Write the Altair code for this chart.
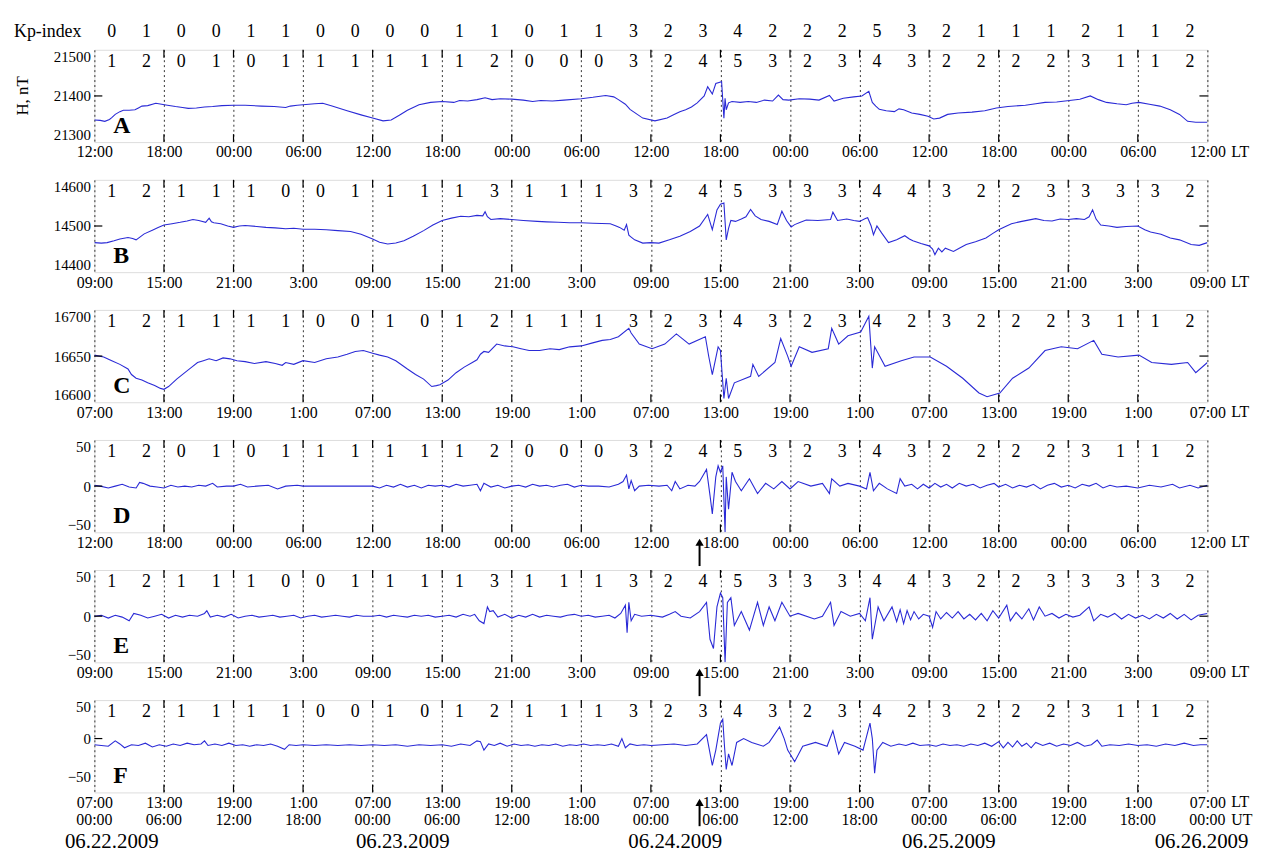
import altair as alt
import pandas as pd

# ---------------- data (time axis: hours UT from 06.22.2009 00:00) ----------------
TICK_HOURS = list(range(0, 97, 6))
LT_12 = ["12:00", "18:00", "00:00", "06:00"] * 4 + ["12:00"]
LT_09 = ["09:00", "15:00", "21:00", "3:00"] * 4 + ["09:00"]
LT_07 = ["07:00", "13:00", "19:00", "1:00"] * 4 + ["07:00"]
UT_LABELS = ["00:00", "06:00", "12:00", "18:00"] * 4 + ["00:00"]
DATES = ["06.22.2009", "06.23.2009", "06.24.2009", "06.25.2009", "06.26.2009"]

KP_GLOBAL = [0, 1, 0, 0, 1, 1, 0, 0, 0, 0, 1, 1, 0, 1, 1, 3,
             2, 3, 4, 2, 2, 2, 5, 3, 2, 1, 1, 1, 2, 1, 1, 2]
K_A = [1, 2, 0, 1, 0, 1, 1, 1, 1, 1, 1, 2, 0, 0, 0, 3,
       2, 4, 5, 3, 2, 3, 4, 3, 2, 2, 2, 2, 3, 1, 1, 2]
K_B = [1, 2, 1, 1, 1, 0, 0, 1, 1, 1, 1, 3, 1, 1, 1, 3,
       2, 4, 5, 3, 3, 3, 4, 4, 3, 2, 2, 3, 3, 3, 3, 2]
K_C = [1, 2, 1, 1, 1, 1, 0, 0, 1, 0, 1, 2, 1, 1, 1, 3,
       2, 3, 4, 3, 2, 3, 4, 2, 3, 2, 2, 2, 3, 1, 1, 2]

A_t = [0, 0.5, 0.9, 1.3, 1.5, 1.8, 2.2, 2.5, 3.0, 3.5, 3.8, 4.1, 4.6, 5.3, 5.8, 6.3, 7.0, 7.6, 8.1, 8.8,
       9.5, 10.2, 11.0, 12.0, 13.0, 14.4, 15.5, 16.5, 16.9, 17.5, 18.0, 19.0, 19.7, 20.5, 21.8, 23.0, 24.0,
       24.9, 25.6, 26.3, 27.0, 28.0, 29.0, 30.0, 31.0, 31.5, 32.2, 33.0, 33.7, 34.3, 35.0, 36.0, 37.0, 37.8,
       38.5, 39.5, 40.5, 42.0, 43.0, 44.1, 44.8, 45.2, 45.8, 46.2, 47.3, 48.35, 49.4, 50.0, 50.5, 51.0, 51.5,
       52.0, 52.6, 52.9, 53.1, 53.3, 53.6, 54.1, 54.3, 54.4, 54.5, 54.7, 55.0, 55.7, 56.4, 57.1, 57.8, 58.5,
       59.0, 59.4, 59.9, 60.8, 61.7, 62.5, 63.4, 63.8, 64.6, 65.5, 66.2, 66.8, 67.1, 67.4, 67.7, 68.3, 69.0,
       69.4, 69.8, 70.5, 71.2, 71.9, 72.4, 72.9, 73.6, 74.5, 75.7, 76.8, 77.8, 78.8, 80.3, 81.2, 82.0, 83.0,
       84.1, 85.0, 85.9, 86.6, 87.3, 88.2, 89.0, 89.5, 90.1, 91.0, 91.9, 92.8, 93.6, 94.3, 95.0, 96.0]
A_v = [21348, 21347, 21345, 21349, 21353, 21360, 21366, 21369, 21369, 21370, 21374, 21378, 21379, 21384,
       21382, 21380, 21377, 21375, 21373, 21374, 21376, 21377, 21379, 21380, 21380, 21378, 21377, 21375,
       21378, 21380, 21381, 21383, 21384, 21378, 21368, 21359, 21352, 21346, 21348, 21358, 21369, 21381,
       21386, 21388, 21386, 21390, 21389, 21392, 21396, 21392, 21394, 21393, 21391, 21388, 21390, 21389,
       21391, 21394, 21397, 21401, 21398, 21392, 21382, 21371, 21352, 21346, 21352, 21360, 21366, 21370,
       21376, 21385, 21400, 21420, 21412, 21404, 21427, 21431, 21352, 21395, 21370, 21385, 21388, 21386,
       21388, 21386, 21391, 21389, 21402, 21392, 21391, 21394, 21393, 21391, 21401, 21389, 21395, 21398,
       21400, 21410, 21386, 21378, 21371, 21368, 21366, 21372, 21370, 21363, 21360, 21356, 21350, 21352,
       21360, 21363, 21365, 21368, 21374, 21377, 21380, 21383, 21386, 21387, 21390, 21393, 21400, 21392,
       21386, 21383, 21381, 21384, 21386, 21382, 21378, 21370, 21360, 21345, 21343, 21343]

B_t = [0, 0.6, 1.1, 1.7, 2.2, 2.9, 3.3, 3.6, 4.3, 5.0, 5.5, 6, 6.7, 7.4, 8.0, 8.5, 9.0, 9.6, 9.9, 10.1,
       10.3, 10.9, 11.5, 12, 12.5, 13, 14.0, 14.8, 15.6, 16.5, 17.2, 18, 19.0, 20, 21.0, 22.1, 23.0, 24,
       24.6, 25.3, 26.0, 26.7, 27.5, 28.4, 29.2, 30, 30.8, 31.6, 32.3, 33, 33.5, 33.7, 33.9, 34.2, 35.0, 36,
       37.0, 38.2, 39.0, 40, 41.0, 42, 43.0, 44.5, 45.0, 45.3, 45.7, 45.9, 46.1, 46.3, 46.6, 47.3, 48.0,
       48.7, 49.6, 50.5, 51.4, 52.2, 52.9, 53.3, 53.7, 54.0, 54.3, 54.5, 54.7, 54.9, 55.3, 55.8, 56.2, 56.6,
       57.0, 57.5, 58.2, 58.9, 59.3, 59.7, 60.1, 60.4, 60.9, 61.4, 62.4, 63.5, 63.7, 64.1, 64.9, 65.5, 66.0,
       66.5, 66.7, 67.0, 67.2, 67.5, 67.9, 68.5, 69.2, 69.9, 70.3, 70.6, 71.3, 72, 72.3, 72.5, 72.8, 73.1,
       73.4, 74.1, 74.6, 75.2, 76.0, 76.9, 77.5, 78, 78.5, 79.1, 80.0, 81.2, 81.9, 82.6, 83.3, 84, 84.7,
       85.4, 85.8, 86.1, 86.4, 86.8, 87.5, 88.2, 89.0, 90, 90.6, 91.1, 92.0, 92.8, 93.6, 94.6, 95.3, 96]
B_v = [14464, 14463, 14464, 14468, 14472, 14475, 14473, 14470, 14483, 14491, 14497, 14502, 14505, 14508,
       14511, 14514, 14512, 14508, 14517, 14509, 14507, 14505, 14500, 14497, 14500, 14501, 14499, 14497,
       14496, 14494, 14495, 14493, 14493, 14492, 14490, 14488, 14482, 14472, 14465, 14461, 14463, 14468,
       14478, 14490, 14502, 14512, 14517, 14521, 14520, 14523, 14522, 14531, 14520, 14514, 14516, 14514,
       14512, 14510, 14509, 14508, 14507, 14507, 14506, 14505, 14500, 14497, 14491, 14503, 14480, 14476,
       14470, 14463, 14464, 14463, 14470, 14478, 14488, 14500, 14525, 14492, 14535, 14547, 14550, 14470,
       14495, 14512, 14510, 14515, 14520, 14536, 14522, 14514, 14510, 14503, 14532, 14512, 14498, 14503,
       14508, 14513, 14512, 14514, 14530, 14512, 14515, 14512, 14510, 14516, 14518, 14500, 14481, 14500,
       14485, 14464, 14470, 14479, 14472, 14468, 14462, 14457, 14450, 14438, 14452, 14444, 14452, 14445,
       14452, 14460, 14466, 14474, 14484, 14492, 14498, 14505, 14510, 14516, 14512, 14511, 14515, 14514,
       14516, 14514, 14520, 14535, 14515, 14502, 14500, 14497, 14499, 14500, 14492, 14487, 14482, 14474,
       14470, 14460, 14458, 14464]

C_t = [0, 0.8, 1.5, 2.2, 2.9, 3.2, 3.6, 4.1, 4.6, 5.2, 5.7, 6.0, 6.4, 7.1, 7.8, 8.4, 8.9, 9.4, 9.9, 10.5,
       11.1, 11.7, 12.3, 13, 13.8, 14.8, 15.6, 16.2, 16.5, 17.2, 18, 19.0, 20, 21.0, 21.8, 22.5, 23.2, 24.0,
       24.6, 25.3, 26.0, 27, 27.7, 28.4, 29.1, 29.5, 29.8, 30.5, 31.2, 31.9, 32.6, 33.0, 33.3, 33.6, 34.0,
       34.7, 35.4, 36.1, 36.8, 37.5, 38.4, 39.3, 40.1, 41, 42, 42.9, 43.8, 44.5, 45.2, 46.1,
       46.3, 47, 48.1, 49.2, 50.2, 51.3, 52.7, 53.0, 53.3, 53.8, 54.0, 54.3, 54.5, 54.7, 55.2, 56.6, 56.8,
       57.3, 58.7, 59.2, 59.8, 60.1, 60.8, 61.9, 63.3, 63.6, 64.2, 65.0, 66.1, 66.8, 67.1, 67.3, 68.2, 69.6,
       70.7, 72.1, 73.5, 74.9, 76.3, 77, 78.1, 79.2, 80.6, 82, 83.4, 84.8, 86.2, 86.9, 88.3, 90.1, 91.2,
       92.9, 94.3, 95, 96]
C_v = [16651, 16649, 16645, 16641, 16636, 16630, 16626, 16624, 16621, 16618, 16615, 16614, 16617, 16625,
       16632, 16638, 16643, 16645, 16647, 16645, 16648, 16647, 16645, 16644, 16642, 16644, 16642, 16640,
       16643, 16641, 16645, 16643, 16647, 16649, 16652, 16655, 16656, 16653, 16651, 16649, 16645, 16636,
       16630, 16625, 16617, 16618, 16619, 16624, 16632, 16638, 16643, 16646, 16652, 16655, 16654, 16663,
       16661, 16660, 16658, 16656, 16656, 16658, 16657, 16660, 16661, 16664, 16667, 16668, 16671, 16680,
       16675, 16663, 16658, 16663, 16674, 16663, 16671, 16649, 16630, 16660, 16656, 16604, 16626, 16604,
       16621, 16628, 16641, 16628, 16643, 16669, 16650, 16639, 16660, 16654, 16658, 16680, 16663, 16672,
       16676, 16693, 16637, 16660, 16639, 16645, 16649, 16649, 16639, 16626, 16610, 16606, 16610, 16626,
       16637, 16656, 16660, 16658, 16667, 16652, 16649, 16651, 16643, 16641, 16643, 16632, 16643]

D_t = [0, 0.5, 1.2, 1.8, 2.4, 3.0, 3.6, 3.9, 4.2, 4.8, 5.4, 6.0, 6.6, 7.2, 7.8, 8.4, 9.0, 9.6, 10.2, 10.6,
       11.4, 12.0, 12.6, 13.2, 14.0, 15.0, 15.8, 16.5, 17.5, 18.0, 19.5, 21.0, 22.5, 24.0, 24.6, 25.2, 25.8,
       26.4, 27.0, 27.6, 28.2, 28.8, 29.4, 30.0, 30.6, 31.2, 31.8, 32.4, 33.0, 33.3, 33.6, 34.2, 34.8, 35.4,
       36.0, 36.6, 37.2, 37.8, 38.4, 39.0, 39.6, 40.2, 40.8, 41.4, 42.0, 42.6, 43.5, 44.4, 45.2, 45.6, 45.9,
       46.1, 46.3, 46.6, 47.0, 47.8, 48.7, 49.4, 49.8, 50.1, 50.5, 51.2, 51.8, 52.2, 52.8, 53.1, 53.3, 53.6,
       53.8, 54.0, 54.2, 54.4, 54.5, 54.7, 55.0, 55.3, 55.8, 56.5, 57.2, 57.9, 58.6, 59.3, 60.0, 60.7, 61.8,
       62.8, 63.4, 63.6, 64.3, 65.0, 66.0, 66.6, 66.9, 67.2, 67.7, 68.4, 69.2, 69.5, 69.9, 70.5, 71.0, 71.5,
       72.0, 72.5, 73.0, 73.5, 74.0, 74.6, 75.2, 75.8, 76.4, 77.0, 77.6, 78.0, 78.6, 79.2, 79.8, 80.4, 81.0,
       81.6, 82.2, 82.8, 83.4, 84.0, 84.6, 85.2, 85.8, 86.4, 87.0, 87.6, 88.2, 89.0, 90.0, 91.0, 92.0, 93.0,
       93.6, 94.5, 95.2, 96.0]
D_v = [1, 0, -2, 0, 2, -1, -2, 4, 3, 0, -1, -2, 1, -1, 0, -1, 1, 0, 3, -1,
       0, 0, 2, -1, 0, 1, -3, 0, 1, 0, 0, 0, 0, 0, -2, 1, -1,
       2, -1, 1, -2, 1, 0, 1, -1, 2, 0, 1, 2, -5, 3, -1, 1, -2,
       0, 1, -1, 2, 0, 1, -1, 1, 2, -1, 1, 0, 0, -1, 2, 5, 12,
       -3, 6, -5, 0, 1, 0, 1, -5, 5, -3, 1, 0, 5, 18, -10, -30, 10,
       22, 15, 22, -50, 10, -25, 15, 5, -5, 8, -8, 3, -3, 5, -3, 5, 0,
       3, -8, 8, 0, 3, 0, -3, 15, -5, 3, -3, -8, 8, 0, 2, -3, 2,
       -2, 3, -1, 2, -2, 3, 0, 2, -2, 1, 3, -1, 2, -2, 1, -1, 2,
       -3, 1, 3, -1, 1, -2, 2, 0, 3, -2, 1, -1, 0, -2, 1, -1, 2,
       -2, 1, -2, 1]

E_t = [0, 0.6, 1.2, 1.8, 2.4, 3.0, 3.4, 4.0, 4.6, 5.2, 5.8, 6.4, 7.0, 7.6, 8.2, 8.9, 9.5, 9.7, 10.0, 10.6,
       11.2, 11.8, 12.4, 13.0, 13.6, 14.2, 14.8, 15.4, 16.0, 16.6, 17.2, 17.8, 18.4, 19.0, 19.6, 20.2, 20.8,
       21.4, 22.0, 22.6, 23.2, 24.0, 24.6, 25.2, 25.8, 26.4, 27.0, 27.6, 28.2, 28.8, 29.4, 30.0, 30.6, 31.2,
       31.8, 32.4, 32.8, 33.2, 33.6, 33.9, 34.1, 34.4, 34.8, 35.4, 36.0, 36.6, 37.2, 37.8, 38.4, 39.0, 39.6,
       40.2, 40.8, 41.4, 42.0, 42.6, 43.2, 43.8, 44.4, 44.9, 45.4, 45.8, 45.95, 46.1, 46.3, 46.6, 47.2, 48,
       49, 49.6, 50.1, 50.6, 51.4, 52.2, 52.8, 53.1, 53.4, 53.7, 54.0, 54.2, 54.4, 54.6, 54.9, 55.2, 55.8,
       56.5, 57.2, 57.7, 58.2, 58.7, 59.3, 60.0, 60.7, 62.1, 62.8, 63.5, 63.8, 64.4, 65.2, 66.0, 66.5, 66.9,
       67.1, 67.6, 68.1, 68.8, 69.2, 69.5, 69.8, 70.1, 70.4, 70.7, 71.1, 71.5, 72.0, 72.3, 72.6, 73.0, 73.5,
       74.0, 74.5, 75.0, 75.5, 76.0, 76.5, 77.0, 77.5, 78.0, 78.7, 79.0, 79.5, 80.0, 80.6, 81.0, 81.5, 82.0,
       82.6, 83.2, 83.8, 84.4, 85.0, 85.8, 86.2, 86.8, 87.4, 88.0, 88.6, 89.2, 89.8, 90.4, 91.0, 91.6, 92.2,
       92.8, 93.4, 94.0, 94.6, 95.2, 96.0]
E_v = [0, 1, -2, 1, -1, -5, 3, 1, -2, 0, 2, -2, 1, -1, 1, 0, 3, 6, -1, 1,
       -1, 2, -2, 0, 1, -1, 0, 1, -1, 0, 1, -2, 0, 1, -1, 0, 1,
       0, -1, 1, 0, 0, 1, -1, 1, 0, -1, 1, 0, 1, -1, 0, 1, -1,
       2, 0, 2, -5, -8, 10, 5, 6, -1, 2, -2, 1, -1, 2, -1, 1, 0,
       -1, 1, 2, 0, 1, -1, 0, 1, -2, 3, 12, -18, 15, -5, 2, 0, 1,
       -1, 2, 5, 0, -2, 5, 15, -25, -35, 10, 25, 20, -50, 15, 20, -10, 5,
       -15, 15, -10, 10, -5, 15, 0, 3, -3, 0, 15, -10, 5, 0, 3, -5, 20,
       -25, 10, -5, 10, -6, 7, -8, 6, -4, 5, -3, 2, 0, -12, 5, -3, 4,
       -2, 5, -3, 2, -4, 3, -5, 6, -2, 12, -5, 4, -3, 8, -4, 10, 0,
       3, -2, 2, -1, 1, 10, -5, 2, -1, 3, -3, 2, -2, 1, -3, 2, -2,
       3, -3, 2, -4, 1, 3]

F_t = [0, 0.6, 1.2, 1.8, 2.2, 2.6, 3.2, 3.8, 4.4, 5.0, 5.6, 6.2, 6.8, 7.4, 8.0, 8.6, 9.2, 9.5, 9.8, 10.4,
       11.0, 11.6, 12.2, 12.8, 13.4, 14.0, 14.6, 15.2, 15.8, 16.4, 16.8, 17.4, 18.0, 19.0, 20.0, 21.0, 22.0,
       23.0, 24.0, 25.0, 26.0, 27.0, 28.0, 29.0, 30.0, 30.8, 31.6, 32.4, 33.0, 33.3, 33.6, 34.0, 34.5, 35.0,
       35.6, 36.2, 36.8, 37.4, 38.0, 38.6, 39.2, 39.8, 40.4, 41.0, 41.6, 42.2, 42.8, 43.4, 44.0, 44.6, 45.2,
       45.5, 45.8, 46.2, 46.8, 47.4, 48.0, 49.0, 50.0, 51.0, 52.0, 52.8, 53.3, 53.6, 54.0, 54.2, 54.35, 54.5,
       54.7, 55.0, 55.4, 56.0, 56.7, 57.7, 58.2, 59.1, 59.5, 59.8, 60.4, 61.1, 62.2, 63.2, 63.7, 64.2, 64.7,
       65.6, 66.3, 66.9, 67.1, 67.3, 67.5, 68.0, 68.7, 69.4, 70.0, 70.6, 71.2, 72.0, 72.6, 73.2, 73.8, 74.4,
       75.0, 75.6, 76.2, 76.8, 77.4, 78.0, 78.4, 78.8, 79.2, 79.6, 80.0, 80.4, 80.8, 81.2, 81.8, 82.4, 83.0,
       83.6, 84.2, 84.8, 85.4, 86.0, 86.5, 86.9, 87.6, 88.4, 89.2, 90.0, 90.8, 91.6, 92.4, 93.2, 94.0, 94.8,
       95.4, 96.0]
F_v = [-8, -9, -10, -3, -7, -12, -8, -9, -6, -11, -8, -10, -7, -9, -6, -8, -7, -3, -9, -7,
       -9, -6, -9, -8, -10, -8, -9, -7, -10, -14, -8, -9, -8, -9, -8, -9, -8,
       -9, -8, -9, -8, -10, -8, -9, -8, -10, -7, -9, -3, -4, -15, -7, -9, -6,
       -10, -7, -9, -8, -10, -8, -9, -7, -10, -8, -9, -7, -9, -8, -9, -7, -10,
       0, -12, -7, -9, -8, -9, -8, -7, -9, -7, 5, -35, -15, 20, 25, -10, -40,
       -20, -35, -5, 0, -5, -10, -5, 15, 0, -15, -30, -10, -5, -10, 10, -20, -5,
       -10, -15, 20, 0, -45, -15, -5, -10, -7, -9, -6, -9, -8, -10, -7, -9, -8,
       -10, -7, -9, -6, -10, -4, -12, -5, -11, -3, -10, -6, -12, -5, -9, -6, -10,
       -7, -9, -5, -10, -8, -2, -10, -8, -9, -7, -9, -8, -10, -7, -9, -6, -9,
       -8, -8]

# ---------------- layout / style ----------------
W = 1121
H = 93
SERIF = "Liberation Serif"
BLUE = "#2a2ad6"
ARROW_H = 52.2
MIDS = [1.5 + 3 * i for i in range(32)]
DATE_SHIFT_H = [1.5, 2.6, 2.1, 1.7, -0.5]

PANELS = [
    dict(name="A", t=A_t, v=A_v, dom=[21300, 21500], yt=[21300, 21400, 21500], mid=21400, K=K_A, labels=LT_12, arrow=False),
    dict(name="B", t=B_t, v=B_v, dom=[14400, 14600], yt=[14400, 14500, 14600], mid=14500, K=K_B, labels=LT_09, arrow=False),
    dict(name="C", t=C_t, v=C_v, dom=[16600, 16700], yt=[16600, 16650, 16700], mid=16650, K=K_C, labels=LT_07, arrow=False),
    dict(name="D", t=D_t, v=D_v, dom=[-50, 50], yt=[-50, 0, 50], mid=0, K=K_A, labels=LT_12, arrow=True),
    dict(name="E", t=E_t, v=E_v, dom=[-50, 50], yt=[-50, 0, 50], mid=0, K=K_B, labels=LT_09, arrow=True),
    dict(name="F", t=F_t, v=F_v, dom=[-70, 50], yt=[-50, 0, 50], mid=0, K=K_C, labels=LT_07, arrow=True),
]


def lab_expr(labels):
    arr = "[" + ",".join("'" + s + "'" for s in labels) + "]"
    return arr + "[round(datum.value/6)]"


def txt(df, **kw):
    base = dict(font=SERIF, color="black")
    base.update(kw)
    return alt.Chart(df).mark_text(**base)


def make_panel(p, first, last):
    xenc = alt.X("t:Q", scale=alt.Scale(domain=[0, 96], nice=False, zero=False),
                 axis=alt.Axis(values=TICK_HOURS, labelExpr=lab_expr(p["labels"]), grid=True,
                               gridDash=[2, 3], gridColor="#333333", gridWidth=1, ticks=False,
                               domain=False, labelFont=SERIF, labelFontSize=16, labelColor="black",
                               labelPadding=2, title=None, labelOverlap=False, labelFlush=False))
    yenc = alt.Y("v:Q", scale=alt.Scale(domain=p["dom"], nice=False, zero=False),
                 axis=alt.Axis(values=p["yt"], format="d", labelFlush=True, ticks=False, domain=False,
                               grid=False, labelFont=SERIF, labelFontSize=15, labelColor="black",
                               labelPadding=4, title=None))
    df = pd.DataFrame({"t": p["t"], "v": p["v"]})
    layers = []
    line = alt.Chart(df).mark_line(color=BLUE, strokeWidth=1.1, clip=True).encode(x=xenc, y=yenc)
    layers.append(line)

    tick_df = pd.DataFrame({"t": TICK_HOURS[1:-1]})
    layers.append(alt.Chart(tick_df).mark_rule(color="black", strokeWidth=1.2)
                  .encode(x=xenc, y=alt.value(0), y2=alt.value(8)))
    layers.append(alt.Chart(tick_df).mark_rule(color="black", strokeWidth=1.2)
                  .encode(x=xenc, y=alt.value(H - 8), y2=alt.value(H)))
    mid_df = pd.DataFrame({"v": [p["mid"]]})
    layers.append(alt.Chart(mid_df).mark_rule(color="black", strokeWidth=1.2)
                  .encode(y=yenc, x=alt.value(0), x2=alt.value(8)))
    layers.append(alt.Chart(mid_df).mark_rule(color="black", strokeWidth=1.2)
                  .encode(y=yenc, x=alt.value(W - 8), x2=alt.value(W)))

    k_df = pd.DataFrame({"t": MIDS, "k": [str(k) for k in p["K"]]})
    layers.append(txt(k_df, fontSize=18, baseline="middle").encode(x=xenc, y=alt.value(12), text="k:N"))

    layers.append(txt(pd.DataFrame({"s": [p["name"]]}), fontSize=24, fontWeight="bold", align="left",
                      baseline="middle").encode(x=alt.value(19), y=alt.value(H - 16), text="s:N"))
    layers.append(txt(pd.DataFrame({"s": ["LT"]}), fontSize=16, align="left", baseline="top")
                  .encode(x=alt.value(W + 24), y=alt.value(H + 2), text="s:N"))

    if first:
        kp_df = pd.DataFrame({"t": MIDS, "k": [str(k) for k in KP_GLOBAL]})
        layers.append(txt(kp_df, fontSize=18, baseline="middle").encode(x=xenc, y=alt.value(-18), text="k:N"))
        layers.append(txt(pd.DataFrame({"s": ["Kp-index"]}), fontSize=18, align="right", baseline="middle")
                      .encode(x=alt.value(-13), y=alt.value(-18), text="s:N"))
        layers.append(txt(pd.DataFrame({"s": ["H, nT"]}), fontSize=17, angle=270, align="center",
                          baseline="middle").encode(x=alt.value(-72), y=alt.value(H / 2), text="s:N"))
        layers.append(alt.Chart(pd.DataFrame({"a": [0]})).mark_rule(color="white", strokeWidth=1)
                      .encode(x=alt.value(-80), x2=alt.value(-79), y=alt.value(-33), y2=alt.value(-32)))

    if p["arrow"]:
        arr_df = pd.DataFrame({"t": [ARROW_H]})
        layers.append(alt.Chart(arr_df).mark_rule(color="black", strokeWidth=2)
                      .encode(x=xenc, y=alt.value(H + 12), y2=alt.value(H + 34)))
        layers.append(alt.Chart(arr_df).mark_point(shape="triangle-up", filled=True, size=70,
                                                   color="black", opacity=1)
                      .encode(x=xenc, y=alt.value(H + 10)))

    if last:
        ut_df = pd.DataFrame({"t": TICK_HOURS, "s": UT_LABELS})
        layers.append(txt(ut_df, fontSize=16, baseline="top").encode(x=xenc, y=alt.value(H + 20), text="s:N"))
        layers.append(txt(pd.DataFrame({"s": ["UT"]}), fontSize=16, align="left", baseline="top")
                      .encode(x=alt.value(W + 24), y=alt.value(H + 20), text="s:N"))
        date_df = pd.DataFrame({"t": [24 * i + DATE_SHIFT_H[i] for i in range(len(DATES))], "s": DATES})
        layers.append(txt(date_df, fontSize=21, baseline="top").encode(x=xenc, y=alt.value(H + 39), text="s:N"))

    return alt.layer(*layers).properties(width=W, height=H)


panels = [make_panel(p, i == 0, i == len(PANELS) - 1) for i, p in enumerate(PANELS)]
chart = alt.vconcat(*panels, spacing=38, bounds="flush").configure_view(
    stroke="black", strokeWidth=1.5
).configure(background="white")

chart.save("out.html", embed_options={"renderer": "svg", "actions": False})
